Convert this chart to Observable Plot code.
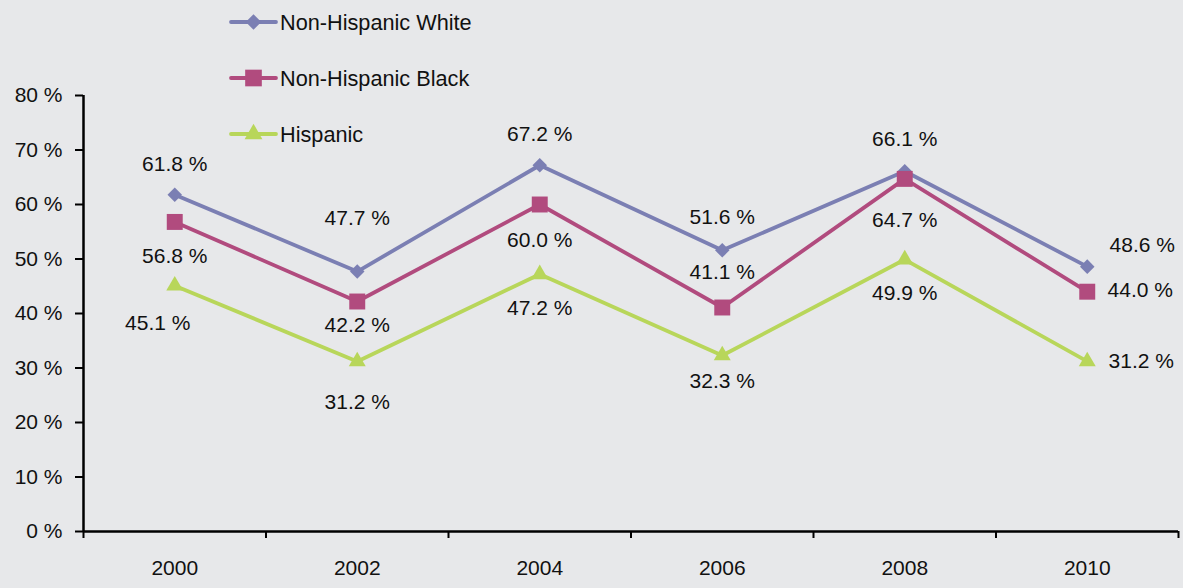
<!DOCTYPE html>
<html>
<head>
<meta charset="utf-8">
<script src="https://cdn.jsdelivr.net/npm/d3@7"></script>
<script src="https://cdn.jsdelivr.net/npm/@observablehq/plot@0.6"></script>
<style>
  html, body { margin: 0; padding: 0; background: #e7e8ea; }
  #wrap { position: relative; width: 1183px; height: 588px; overflow: hidden; }
  #legend { position: absolute; left: 0; top: 0; }
  svg text { font-family: "Liberation Sans", Arial, Helvetica, sans-serif; }
</style>
</head>
<body>
<div id="wrap"><div id="chart"></div><svg id="legend" width="520" height="160"></svg></div>
<script>
// Survey years and share (%) for each group
const years = [2000, 2002, 2004, 2006, 2008, 2010];
const seriesNames = ["Non-Hispanic White", "Non-Hispanic Black", "Hispanic"];
const white = [61.8, 47.7, 67.2, 51.6, 66.1, 48.6];
const black = [56.8, 42.2, 60.0, 41.1, 64.7, 44.0];
const hispanic = [45.1, 31.2, 47.2, 32.3, 49.9, 31.2];
const yTicks = [0, 10, 20, 30, 40, 50, 60, 70, 80];

// Styling
const colors = ["#7b7fb3", "#b14b7e", "#b8d65a"];

// Where each value label sits relative to its point [dx, dy]
const labelOffsets = [
  [[0, -30], [0, -53], [0, -31], [0, -33], [0, -32], [55, -21]],
  [[0, 34], [0, 24], [0, 36], [0, -35], [0, 41], [53, -1]],
  [[-17, 38], [0, 41], [0, 34], [0, 26], [0, 34], [54, 0]]
];

const valuesBySeries = [white, black, hispanic];
const rows = [];
seriesNames.forEach((name, s) => {
  years.forEach((year, i) => {
    rows.push({series: name, si: s, year, value: valuesBySeries[s][i],
               dx: labelOffsets[s][i][0], dy: labelOffsets[s][i][1]});
  });
});

// Category boundaries (ticks sit between the years)
const boundaries = d3.range(years[0] - 1, years[years.length - 1] + 2, 2);

const font = 21;
const dotMarks = [
  Plot.dot(rows.filter(d => d.si === 0), {x: "year", y: "value", fill: colors[0], symbol: "square", r: 5.8, rotate: 45}),
  Plot.dot(rows.filter(d => d.si === 1), {x: "year", y: "value", fill: colors[1], symbol: "square", r: 9}),
  Plot.dot(rows.filter(d => d.si === 2), {x: "year", y: "value", fill: colors[2], symbol: "triangle", r: 6.3})
];

const labelMarks = rows.map(d => Plot.text([d], {
  x: "year", y: "value", text: r => `${r.value.toFixed(1)} %`,
  dx: d.dx, dy: d.dy, fontSize: font, fill: "#111", textAnchor: "middle", lineAnchor: "middle"
}));

const chart = Plot.plot({
  width: 1183,
  height: 588,
  marginLeft: 83,
  marginRight: 5,
  marginTop: 95,
  marginBottom: 57,
  style: {background: "transparent", fontFamily: "Liberation Sans, Arial, sans-serif"},
  x: {domain: [boundaries[0], boundaries[boundaries.length - 1]]},
  y: {domain: [0, 80]},
  color: {domain: seriesNames, range: colors},
  marks: [
    Plot.axisY(yTicks, {tickSize: 8, tickPadding: 13, strokeWidth: 2, stroke: "#000",
      tickFormat: d => `${d} %`, fontSize: font, fill: "#111", label: null}),
    Plot.axisX(boundaries, {tickSize: 7, strokeWidth: 2, stroke: "#000", tickFormat: () => "", label: null}),
    Plot.axisX(years, {tickSize: 0, tickPadding: 29, tickFormat: d => String(d), fontSize: font, fill: "#111", label: null}),
    Plot.ruleX([boundaries[0]], {stroke: "#000", strokeWidth: 2.5}),
    Plot.ruleY([0], {stroke: "#000", strokeWidth: 2.5}),
    Plot.line(rows, {x: "year", y: "value", z: "series", stroke: "series", strokeWidth: 3.8}),
    ...dotMarks,
    ...labelMarks
  ]
});
document.getElementById("chart").appendChild(chart);

// Legend: line sample with marker, followed by the group name
const legend = d3.select("#legend");
const legendY = [22, 78, 134];
seriesNames.forEach((name, s) => {
  const g = legend.append("g").attr("transform", `translate(0,${legendY[s]})`);
  g.append("line").attr("x1", 231).attr("x2", 276).attr("y1", 0).attr("y2", 0)
    .attr("stroke", colors[s]).attr("stroke-width", 3.8).attr("stroke-linecap", "round");
  const sym = s === 0 ? d3.symbol(d3.symbolSquare, 6.2 * 6.2 * Math.PI)
            : s === 1 ? d3.symbol(d3.symbolSquare, 9.4 * 9.4 * Math.PI)
            : d3.symbol(d3.symbolTriangle, 6.6 * 6.6 * Math.PI);
  g.append("path").attr("d", sym())
    .attr("transform", `translate(253.5,0)${s === 0 ? " rotate(45)" : ""}`)
    .attr("fill", colors[s]);
  g.append("text").attr("x", 280).attr("y", 0).attr("dy", "0.35em")
    .attr("font-size", 21.7).attr("fill", "#111").text(name);
});
</script>
</body>
</html>
